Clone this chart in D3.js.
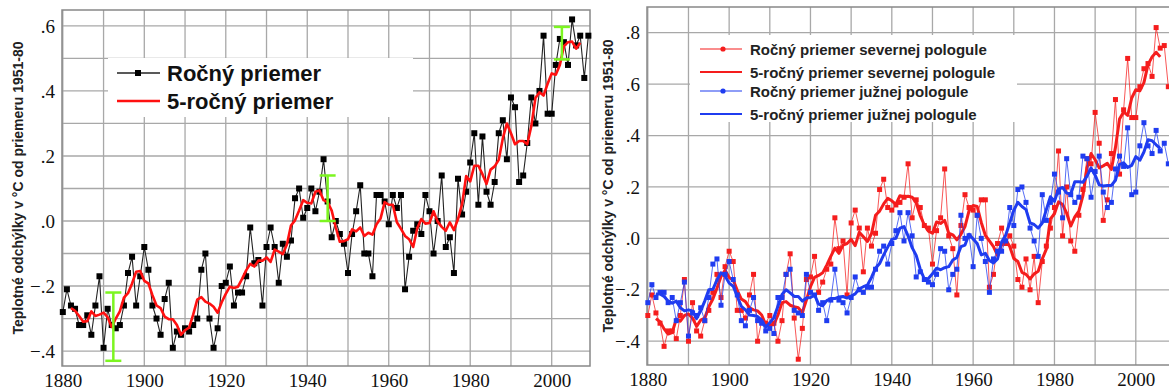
<!DOCTYPE html>
<html><head><meta charset="utf-8">
<script src="https://cdn.jsdelivr.net/npm/d3@7"></script>
<style>body{margin:0;background:#fff;overflow:hidden} svg{display:block}</style>
</head><body>
<svg id="c" width="1169" height="390"></svg>
<script>
// ---------- DATA ----------
const startYear = 1880;
const smoothStart = 1882;

// Global annual mean anomaly, 1880–2009
const globalAnnual = [
 -0.28,-0.21,-0.26,-0.27,-0.32,-0.32,-0.29,-0.35,-0.26,-0.17,
 -0.39,-0.27,-0.32,-0.33,-0.32,-0.26,-0.16,-0.11,-0.26,-0.17,
 -0.08,-0.15,-0.26,-0.30,-0.35,-0.24,-0.19,-0.39,-0.34,-0.35,
 -0.33,-0.34,-0.32,-0.30,-0.15,-0.10,-0.30,-0.39,-0.33,-0.20,
 -0.19,-0.14,-0.26,-0.22,-0.22,-0.17,-0.02,-0.13,-0.12,-0.26,
 -0.08,-0.02,-0.08,-0.19,-0.07,-0.11,-0.06,0.07,0.10,0.01,
 0.04,0.10,0.03,0.09,0.19,0.06,-0.05,0.00,-0.04,-0.07,
 -0.16,-0.04,0.03,0.11,-0.10,-0.10,-0.17,0.08,0.08,0.06,
 -0.01,0.08,0.04,0.08,-0.21,-0.11,-0.03,-0.01,-0.04,0.08,
 0.03,-0.10,0.00,0.14,-0.08,-0.05,-0.16,0.13,0.02,0.09,
 0.18,0.27,0.05,0.26,0.09,0.05,0.12,0.27,0.31,0.19,
 0.38,0.35,0.12,0.14,0.24,0.38,0.30,0.40,0.57,0.33,
 0.33,0.48,0.56,0.55,0.48,0.62,0.54,0.57,0.44,0.57];

// Global 5-year mean, 1882–2007
const global5yr = [
 -0.268,-0.276,-0.292,-0.310,-0.308,-0.278,-0.292,-0.288,
 -0.282,-0.296,-0.326,-0.300,-0.278,-0.236,-0.222,-0.192,-0.156,-0.154,
 -0.184,-0.192,-0.228,-0.260,-0.268,-0.294,-0.302,-0.302,-0.320,-0.350,
 -0.336,-0.328,-0.288,-0.242,-0.234,-0.248,-0.254,-0.264,-0.282,-0.250,
 -0.224,-0.202,-0.206,-0.202,-0.178,-0.152,-0.132,-0.140,-0.122,-0.122,
 -0.112,-0.126,-0.088,-0.094,-0.102,-0.072,-0.014,0.002,0.032,0.064,
 0.056,0.054,0.090,0.094,0.064,0.058,0.032,-0.020,-0.064,-0.062,
 -0.056,-0.026,-0.032,-0.020,-0.046,-0.036,-0.042,-0.010,0.008,0.058,
 0.050,0.050,-0.004,-0.024,-0.046,-0.056,-0.080,-0.022,0.006,-0.008,
 -0.006,0.030,-0.002,-0.018,-0.030,-0.004,-0.028,0.006,0.052,0.138,
 0.122,0.170,0.170,0.144,0.114,0.158,0.168,0.188,0.254,0.300,
 0.270,0.236,0.246,0.246,0.236,0.292,0.378,0.396,0.386,0.422,
 0.454,0.450,0.480,0.538,0.550,0.552,0.530,0.548];

// Uncertainty bars (year, low, high)
const errYears = [1892.4, 1945, 2002.5];
const errLow   = [-0.43, 0.00, 0.497];
const errHigh  = [-0.22, 0.14, 0.597];

// Northern hemisphere annual, 1880–2008
const nhAnnual = [
 -0.30,-0.22,-0.29,-0.33,-0.42,-0.36,-0.36,-0.39,-0.30,-0.16,
 -0.40,-0.25,-0.36,-0.38,-0.32,-0.28,-0.21,-0.14,-0.23,-0.11,
 -0.05,-0.09,-0.28,-0.28,-0.31,-0.22,-0.14,-0.40,-0.32,-0.33,
 -0.30,-0.33,-0.40,-0.32,-0.14,-0.06,-0.31,-0.47,-0.35,-0.16,
 -0.15,-0.07,-0.21,-0.17,-0.12,-0.10,0.08,-0.04,-0.01,-0.22,
 0.06,0.11,0.04,-0.13,0.04,-0.03,0.02,0.19,0.23,0.12,
 0.11,0.13,0.14,0.16,0.29,0.08,0.15,0.12,0.05,0.04,
 -0.10,0.03,0.08,0.27,0.01,-0.04,-0.22,0.05,0.17,0.12,
 0.11,0.09,0.15,0.15,-0.19,-0.14,-0.02,0.04,-0.02,0.01,
 -0.03,-0.16,-0.19,-0.08,-0.20,-0.07,-0.25,-0.09,-0.03,0.04,
 0.12,0.34,0.01,0.20,-0.01,-0.05,0.09,0.19,0.31,0.29,
 0.49,0.37,0.07,0.15,0.33,0.54,0.25,0.50,0.70,0.47,
 0.47,0.59,0.66,0.68,0.63,0.82,0.74,0.75,0.59];

// Northern hemisphere 5-year mean, 1882–2006
const nh5yr = [
 -0.312,-0.324,-0.352,-0.372,-0.366,-0.314,-0.322,-0.300,
 -0.294,-0.310,-0.342,-0.318,-0.310,-0.266,-0.236,-0.194,-0.148,-0.124,
 -0.152,-0.162,-0.202,-0.236,-0.246,-0.270,-0.278,-0.282,-0.298,-0.336,
 -0.336,-0.336,-0.298,-0.250,-0.246,-0.260,-0.266,-0.270,-0.288,-0.240,
 -0.188,-0.152,-0.144,-0.134,-0.104,-0.070,-0.038,-0.058,-0.026,-0.020,
 -0.004,-0.028,0.024,0.006,-0.012,0.018,0.090,0.106,0.134,0.156,
 0.146,0.132,0.166,0.160,0.164,0.160,0.138,0.088,0.052,0.028,
 0.020,0.064,0.058,0.070,0.020,0.014,-0.006,0.016,0.046,0.108,
 0.128,0.124,0.062,0.012,-0.010,-0.032,-0.066,-0.026,-0.004,-0.032,
 -0.078,-0.090,-0.132,-0.140,-0.158,-0.138,-0.128,-0.080,-0.042,0.076,
 0.096,0.142,0.132,0.098,0.048,0.084,0.106,0.166,0.274,0.330,
 0.306,0.274,0.282,0.292,0.268,0.354,0.464,0.492,0.478,0.546,
 0.578,0.574,0.606,0.676,0.706,0.724,0.706];

// Southern hemisphere annual, 1880–2008
const shAnnual = [
 -0.25,-0.18,-0.23,-0.21,-0.21,-0.25,-0.23,-0.32,-0.25,-0.17,
 -0.38,-0.29,-0.30,-0.27,-0.32,-0.23,-0.10,-0.08,-0.26,-0.14,
 -0.09,-0.16,-0.22,-0.32,-0.34,-0.28,-0.23,-0.32,-0.33,-0.36,
 -0.35,-0.37,-0.23,-0.23,-0.14,-0.12,-0.28,-0.29,-0.30,-0.14,
 -0.21,-0.22,-0.28,-0.25,-0.32,-0.24,-0.12,-0.24,-0.25,-0.29,
 -0.23,-0.15,-0.20,-0.21,-0.19,-0.19,-0.12,-0.05,-0.03,-0.10,
 -0.02,0.03,0.10,-0.01,0.10,0.01,-0.15,-0.13,-0.16,-0.17,
 -0.18,-0.14,-0.04,-0.05,-0.20,-0.14,-0.12,0.09,0.00,0.01,
 -0.11,0.09,0.00,-0.09,-0.21,-0.08,-0.05,-0.05,-0.01,0.12,
 0.05,0.19,0.20,0.14,0.04,-0.01,-0.07,0.17,0.07,0.14,
 0.25,0.18,0.08,0.31,0.17,0.14,0.16,0.32,0.31,0.16,
 0.26,0.32,0.18,0.12,0.14,0.27,0.32,0.28,0.43,0.17,
 0.18,0.36,0.45,0.36,0.33,0.42,0.34,0.37,0.29];

// Southern hemisphere 5-year mean, 1882–2006
const sh5yr = [
 -0.216,-0.216,-0.226,-0.244,-0.252,-0.244,-0.270,-0.282,
 -0.278,-0.282,-0.312,-0.282,-0.244,-0.200,-0.198,-0.162,-0.134,-0.146,
 -0.174,-0.186,-0.226,-0.264,-0.278,-0.298,-0.300,-0.304,-0.318,-0.346,
 -0.328,-0.308,-0.264,-0.218,-0.200,-0.212,-0.226,-0.226,-0.244,-0.232,
 -0.230,-0.220,-0.256,-0.262,-0.242,-0.234,-0.234,-0.228,-0.226,-0.232,
 -0.224,-0.216,-0.196,-0.188,-0.182,-0.152,-0.116,-0.098,-0.064,-0.034,
 -0.004,0.000,0.040,0.046,0.010,-0.036,-0.066,-0.120,-0.158,-0.156,
 -0.138,-0.116,-0.122,-0.114,-0.110,-0.084,-0.074,-0.032,-0.026,0.016,
 -0.002,-0.020,-0.064,-0.058,-0.086,-0.096,-0.080,-0.014,0.012,0.060,
 0.110,0.140,0.124,0.112,0.060,0.054,0.040,0.060,0.112,0.162,
 0.144,0.192,0.198,0.176,0.172,0.220,0.220,0.218,0.242,0.274,
 0.246,0.208,0.204,0.206,0.206,0.226,0.288,0.294,0.276,0.284,
 0.318,0.304,0.336,0.384,0.380,0.364,0.350];

// Ticks and labels
const xTickYears = [1880, 1900, 1920, 1940, 1960, 1980, 2000];
const leftYTicks = [-0.4, -0.2, 0, 0.2, 0.4, 0.6];
const leftYLabels = ["\u2212.4", "\u2212.2", ".0", ".2", ".4", ".6"];
const rightYTicks = [-0.4, -0.2, 0, 0.2, 0.4, 0.6, 0.8];
const rightYLabels = ["\u2212.4", "\u2212.2", ".0", ".2", ".4", ".6", ".8"];
const yTitle = "Teplotné odchýlky v °C od priemeru 1951-80";
const leftLegend = ["Ročný priemer", "5-ročný priemer"];
const rightLegend = ["Ročný priemer severnej pologule", "5-ročný priemer severnej pologule",
                     "Ročný priemer južnej pologule", "5-ročný priemer južnej pologule"];

// ---------- DRAW ----------
const svg = d3.select("#c");
const toPts = (arr, y0) => arr.map((v, i) => ({year: y0 + i, v}));

function drawFrame(x, y, box, vGridYears, hGridVals, yTicks, yLabels, titleX) {
  const g = svg.append("g");
  g.append("rect").attr("x", box.x0).attr("y", box.y0)
    .attr("width", box.x1 - box.x0).attr("height", box.y1 - box.y0)
    .attr("fill", "#fff");
  g.selectAll("line.vg").data(vGridYears).join("line")
    .attr("x1", d => x(d)).attr("x2", d => x(d))
    .attr("y1", box.y0).attr("y2", box.y1)
    .attr("stroke", "#a8a8a8").attr("stroke-width", 1.3);
  g.selectAll("line.hg").data(hGridVals).join("line")
    .attr("x1", box.x0).attr("x2", box.x1)
    .attr("y1", d => y(d)).attr("y2", d => y(d))
    .attr("stroke", "#a8a8a8").attr("stroke-width", 1.3);
  g.append("rect").attr("x", box.x0).attr("y", box.y0)
    .attr("width", box.x1 - box.x0).attr("height", box.y1 - box.y0)
    .attr("fill", "none").attr("stroke", "#888").attr("stroke-width", 1.5);

  const ya = svg.append("g").attr("transform", `translate(${box.x0},0)`)
    .call(d3.axisLeft(y).tickValues(yTicks).tickFormat((d, i) => yLabels[i]).tickSize(0).tickPadding(7));
  ya.select(".domain").remove();
  ya.selectAll("text").attr("font-family", "Liberation Serif, Times New Roman, serif")
    .attr("font-size", 19).attr("fill", "#111");

  const xa = svg.append("g").attr("transform", `translate(0,${box.y1})`)
    .call(d3.axisBottom(x).tickValues(xTickYears).tickFormat(d3.format("d")).tickSize(0).tickPadding(8));
  xa.select(".domain").remove();
  xa.selectAll("text").attr("font-family", "Liberation Serif, Times New Roman, serif")
    .attr("font-size", 19).attr("fill", "#111");

  svg.append("text")
    .attr("transform", `translate(${titleX},${(box.y0 + box.y1) / 2}) rotate(-90)`)
    .attr("text-anchor", "middle").attr("dominant-baseline", "central")
    .attr("font-family", "Liberation Sans, Arial, sans-serif").attr("font-weight", "bold")
    .attr("font-size", 14).attr("fill", "#222").text(yTitle);
}

// ----- Left panel -----
const boxL = {x0: 62, x1: 590, y0: 10, y1: 366};
const xL = d3.scaleLinear().domain([1879.8, 2009.4]).range([boxL.x0, boxL.x1]);
const yL = d3.scaleLinear().domain([-0.446, 0.649]).range([boxL.y1, boxL.y0]);
drawFrame(xL, yL, boxL, d3.range(1880, 2010, 10), d3.range(-4, 7).map(d => d / 10),
          leftYTicks, leftYLabels, 18);

// legend box (covers grid)
svg.append("rect").attr("x", 108).attr("y", 58).attr("width", 305).attr("height", 59).attr("fill", "#fff");

const gL = svg.append("g");
const ptsG = toPts(globalAnnual, startYear);
const lineL = d3.line().x(d => xL(d.year)).y(d => yL(d.v));
gL.append("path").datum(ptsG).attr("d", lineL).attr("fill", "none")
  .attr("stroke", "#222").attr("stroke-width", 1.1);
gL.selectAll("rect.m").data(ptsG).join("rect")
  .attr("x", d => xL(d.year) - 3).attr("y", d => yL(d.v) - 3)
  .attr("width", 6).attr("height", 6).attr("fill", "#000");
gL.append("path").datum(toPts(global5yr, smoothStart)).attr("d", lineL).attr("fill", "none")
  .attr("stroke", "#ff1010").attr("stroke-width", 2.6).attr("stroke-linejoin", "round");

// error bars
const errData = errYears.map((yr, i) => ({yr, lo: errLow[i], hi: errHigh[i]}));
const ge = gL.selectAll("g.err").data(errData).join("g");
ge.append("line").attr("x1", d => xL(d.yr)).attr("x2", d => xL(d.yr))
  .attr("y1", d => yL(d.lo)).attr("y2", d => yL(d.hi)).attr("stroke", "#7cf520").attr("stroke-width", 2.5);
ge.append("line").attr("x1", d => xL(d.yr) - 8).attr("x2", d => xL(d.yr) + 8)
  .attr("y1", d => yL(d.lo)).attr("y2", d => yL(d.lo)).attr("stroke", "#7cf520").attr("stroke-width", 2.5);
ge.append("line").attr("x1", d => xL(d.yr) - 8).attr("x2", d => xL(d.yr) + 8)
  .attr("y1", d => yL(d.hi)).attr("y2", d => yL(d.hi)).attr("stroke", "#7cf520").attr("stroke-width", 2.5);

// left legend
const legL = svg.append("g").attr("font-family", "Liberation Sans, Arial, sans-serif")
  .attr("font-weight", "bold").attr("font-size", 22).attr("fill", "#111");
legL.append("line").attr("x1", 117).attr("x2", 160).attr("y1", 73).attr("y2", 73).attr("stroke", "#222").attr("stroke-width", 1.5);
legL.append("rect").attr("x", 135).attr("y", 70).attr("width", 6).attr("height", 6).attr("fill", "#000");
legL.append("line").attr("x1", 117).attr("x2", 160).attr("y1", 101).attr("y2", 101).attr("stroke", "#ff1010").attr("stroke-width", 2.5);
legL.append("text").attr("x", 167).attr("y", 73).attr("dominant-baseline", "central").text(leftLegend[0]);
legL.append("text").attr("x", 167).attr("y", 101).attr("dominant-baseline", "central").text(leftLegend[1]);

// ----- Right panel -----
const boxR = {x0: 647, x1: 1185, y0: 7, y1: 365};
const xR = d3.scaleLinear().domain([1879.8, 2012.1]).range([boxR.x0, boxR.x1]);
const yR = d3.scaleLinear().domain([-0.4925, 0.9]).range([boxR.y1, boxR.y0]);
drawFrame(xR, yR, boxR, d3.range(1880, 2020, 10), rightYTicks, rightYTicks, rightYLabels, 608);

svg.append("rect").attr("x", 690).attr("y", 35).attr("width", 327).attr("height", 87).attr("fill", "#fff");

const gR = svg.append("g");
const lineR = d3.line().x(d => xR(d.year)).y(d => yR(d.v));
function annual(arr, color) {
  const pts = toPts(arr, startYear);
  gR.append("path").datum(pts).attr("d", lineR).attr("fill", "none")
    .attr("stroke", color).attr("stroke-width", 1).attr("stroke-opacity", 0.75);
  gR.append("g").selectAll("rect").data(pts).join("rect")
    .attr("x", d => xR(d.year) - 2.5).attr("y", d => yR(d.v) - 2.5)
    .attr("width", 5).attr("height", 5).attr("fill", color);
}
function smooth(arr, color) {
  gR.append("path").datum(toPts(arr, smoothStart)).attr("d", lineR).attr("fill", "none")
    .attr("stroke", color).attr("stroke-width", 3).attr("stroke-linejoin", "round");
}
const RED = "#f51d1d", BLUE = "#1f3cf0";
annual(nhAnnual, RED);
smooth(nh5yr, RED);
annual(shAnnual, BLUE);
smooth(sh5yr, BLUE);

// right legend
const legR = svg.append("g").attr("font-family", "Liberation Sans, Arial, sans-serif")
  .attr("font-weight", "bold").attr("font-size", 15).attr("fill", "#222");
const legRows = [49, 72, 91, 114];
const legCols = [RED, RED, BLUE, BLUE];
rightLegend.forEach((t, i) => {
  legR.append("line").attr("x1", 700).attr("x2", 742).attr("y1", legRows[i]).attr("y2", legRows[i])
    .attr("stroke", legCols[i]).attr("stroke-width", i % 2 ? 2.2 : 1.2);
  if (i % 2 === 0) legR.append("circle").attr("cx", 723).attr("cy", legRows[i]).attr("r", 2.6).attr("fill", legCols[i]);
  legR.append("text").attr("x", 750).attr("y", legRows[i]).attr("dominant-baseline", "central").text(t);
});
</script>
</body></html>
